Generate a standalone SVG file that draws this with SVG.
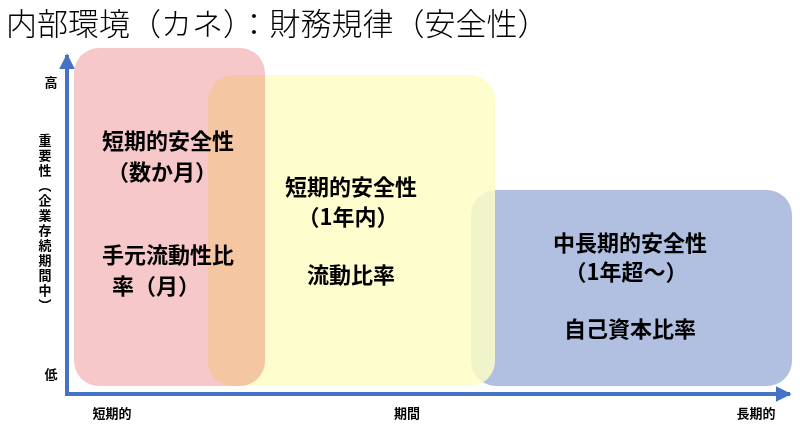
<svg xmlns="http://www.w3.org/2000/svg" width="800" height="432" viewBox="0 0 800 432">
<style>
text{font-family:"Noto Sans CJK JP","Noto Sans CJK SC",sans-serif;fill:#000}
.b{font-size:22px;font-weight:bold;text-anchor:middle}
.s{font-size:13px;font-weight:bold;text-anchor:middle}
</style>
<defs><marker id="ah" viewBox="0 0 10 10" refX="9" refY="5" markerWidth="4" markerHeight="4" orient="auto"><path d="M0,0L10,5L0,10z" fill="#4472c4"/></marker></defs>
<rect width="800" height="432" fill="#fff"/>
<text x="6" y="35" font-size="31" font-weight="300" fill="#333">内部環境（カネ）：財務規律（安全性）</text>
<g id="n3"><rect x="471" y="190" width="321" height="196" rx="25" fill="#b1c0e0"/></g>
<g id="n2"><rect x="208" y="75" width="287" height="311" rx="25" fill="#fdfdc6" opacity="0.85"/></g>
<g id="n1" style="mix-blend-mode:multiply"><rect x="74" y="48" width="191" height="338" rx="25" fill="#f6c8c9"/></g>
<g id="t1"><text class="b" x="168" y="149">短期的安全性</text><text class="b" x="162" y="180">（数か月）</text>
<text class="b" x="168" y="263">手元流動性比</text><text class="b" x="156" y="294">率（月）</text></g>
<g id="t2"><text class="b" x="351" y="195">短期的安全性</text><text class="b" x="348" y="225">（1年内）</text><text class="b" x="351" y="283">流動比率</text></g>
<g id="t3"><text class="b" x="630" y="251">中長期的安全性</text><text class="b" x="626" y="280">（1年超～）</text><text class="b" x="630" y="337">自己資本比率</text></g>
<g id="connectors" stroke="#4472c4" stroke-width="4" fill="none">
<path d="M67,394V55" marker-end="url(#ah)"/>
<path d="M65,394H790" marker-end="url(#ah)"/>
</g>
<g id="labels">
<text class="s" x="51" y="87">高</text>
<text class="s" x="51" y="379">低</text>
<text class="s" x="112" y="418">短期的</text>
<text class="s" x="407" y="418">期間</text>
<text class="s" x="756" y="418">長期的</text>
<text font-size="13" font-weight="bold" x="45" y="134" letter-spacing="2" style="writing-mode:vertical-rl">重要性（企業存続期間中）</text>
</g>
</svg>
